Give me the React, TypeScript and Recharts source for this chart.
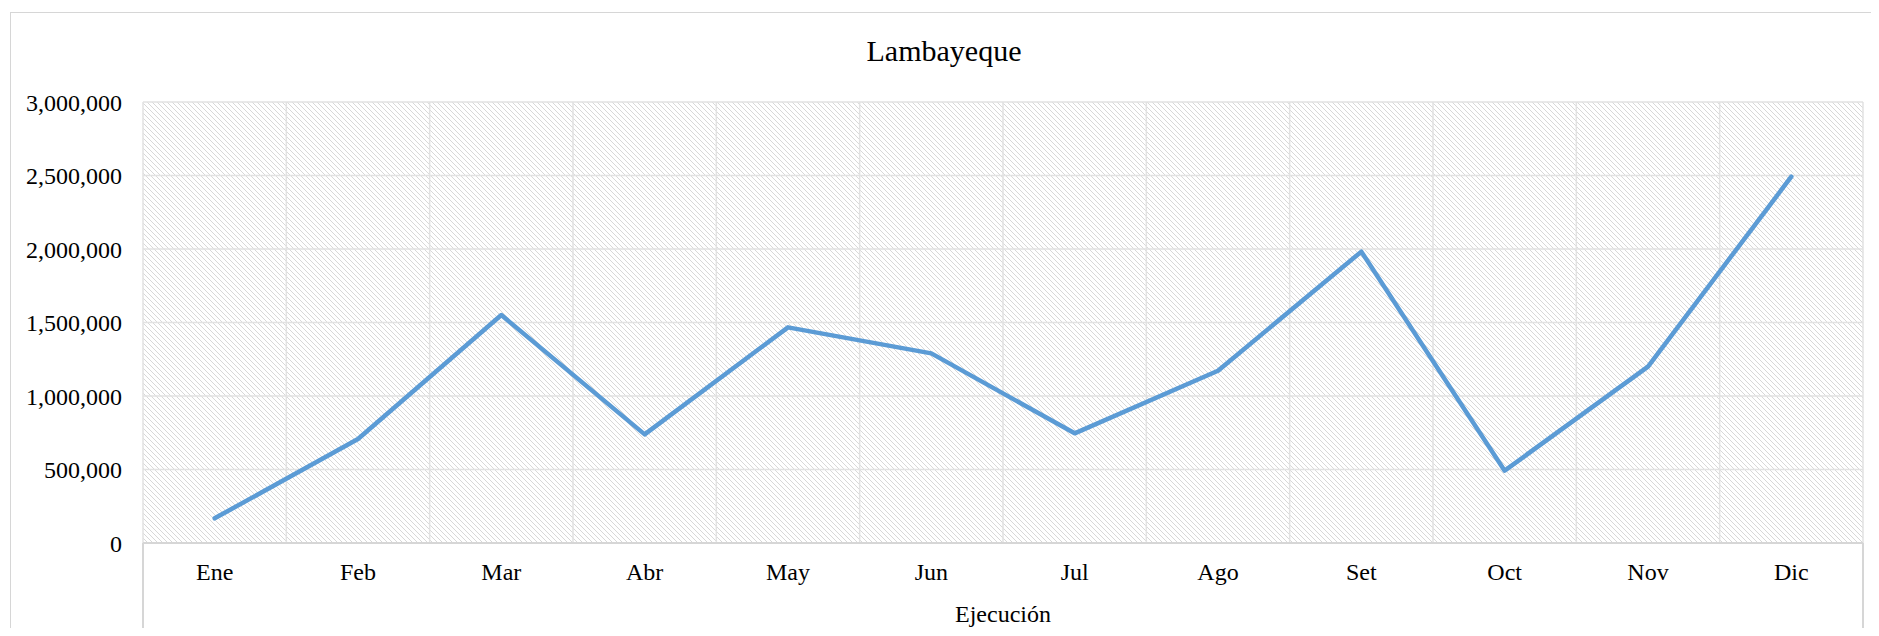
import { CartesianGrid, Line, LineChart, XAxis, YAxis } from 'recharts';

const months = ['Ene', 'Feb', 'Mar', 'Abr', 'May', 'Jun', 'Jul', 'Ago', 'Set', 'Oct', 'Nov', 'Dic'];
const ejecucion = [168000, 707000, 1551000, 739000, 1467000, 1290000, 746000, 1172000, 1982000, 492000, 1200000, 2492000];
const yTicks = [0, 500000, 1000000, 1500000, 2000000, 2500000, 3000000];

const data = months.map((m, i) => ({ mes: m, value: ejecucion[i] }));

const W = 1863;
const H = 620;
const margin = { top: 94, right: 8, left: 0, bottom: 0 };
const yWidth = 135;
const xHeight = 85;
const plotLeft = margin.left + yWidth;
const plotRight = W - margin.right;
const plotBottom = H - margin.bottom - xHeight;
const band = (plotRight - plotLeft) / months.length;
const vPoints = Array.from({ length: months.length + 1 }, (_, i) => plotLeft + i * band);

const font = '"Liberation Serif", "Times New Roman", serif';
const gridColor = '#e2e2e2';

export default function App() {
  return (
    <div style={{ position: 'relative', width: W, height: H, fontFamily: font }}>
      <style>{'body{overflow:hidden}'}</style>
      <div
        style={{
          position: 'absolute',
          left: 2,
          top: 4,
          width: 2000,
          height: 1000,
          borderTop: '1px solid #d6d6d6',
          borderLeft: '1px solid #d6d6d6',
        }}
      />
      <LineChart width={W} height={H} data={data} margin={margin} style={{ position: 'absolute', left: 0, top: 0 }}>
        <defs>
          <pattern id="hatch" patternUnits="userSpaceOnUse" width="5" height="5">
            <rect width="5" height="5" fill="#ffffff" />
            <path d="M0,0 L5,5 M-1,4 L1,6 M4,-1 L6,1" stroke="#d8d8d8" strokeWidth="1" />
          </pattern>
        </defs>
        <CartesianGrid
          fill="url(#hatch)"
          fillOpacity={1}
          stroke={gridColor}
          strokeWidth={1.5}
          verticalPoints={vPoints}
        />
        <XAxis
          dataKey="mes"
          height={xHeight}
          padding={{ left: band / 2, right: band / 2 }}
          tickLine={false}
          tickSize={0}
          tickMargin={20}
          axisLine={{ stroke: '#d6d6d6', strokeWidth: 2 }}
          tick={{ fill: '#000', fontSize: 24, fontFamily: font }}
          interval={0}
        />
        <YAxis
          width={yWidth}
          domain={[0, 3000000]}
          ticks={yTicks}
          tickFormatter={(v: number) => v.toLocaleString('en-US')}
          axisLine={false}
          tickLine={false}
          tickSize={0}
          tickMargin={21}
          tick={{ fill: '#000', fontSize: 24, fontFamily: font }}
        />
        <Line
          dataKey="value"
          stroke="#5b9bd5"
          strokeWidth={4.5}
          dot={false}
          activeDot={false}
          strokeLinejoin="round"
          strokeLinecap="round"
          isAnimationActive={false}
        />
        <line x1={plotLeft} x2={plotLeft} y1={plotBottom} y2={H} stroke="#d6d6d6" strokeWidth={2} />
        <line x1={plotRight} x2={plotRight} y1={plotBottom} y2={H} stroke="#d6d6d6" strokeWidth={2} />
        <text x={(plotLeft + plotRight) / 2} y={614} textAnchor="middle" fontSize={24} fontFamily={font} fill="#000">
          Ejecución
        </text>
        <text x={936} y={53} textAnchor="middle" fontSize={30} fontFamily={font} fill="#000">
          Lambayeque
        </text>
      </LineChart>
    </div>
  );
}
